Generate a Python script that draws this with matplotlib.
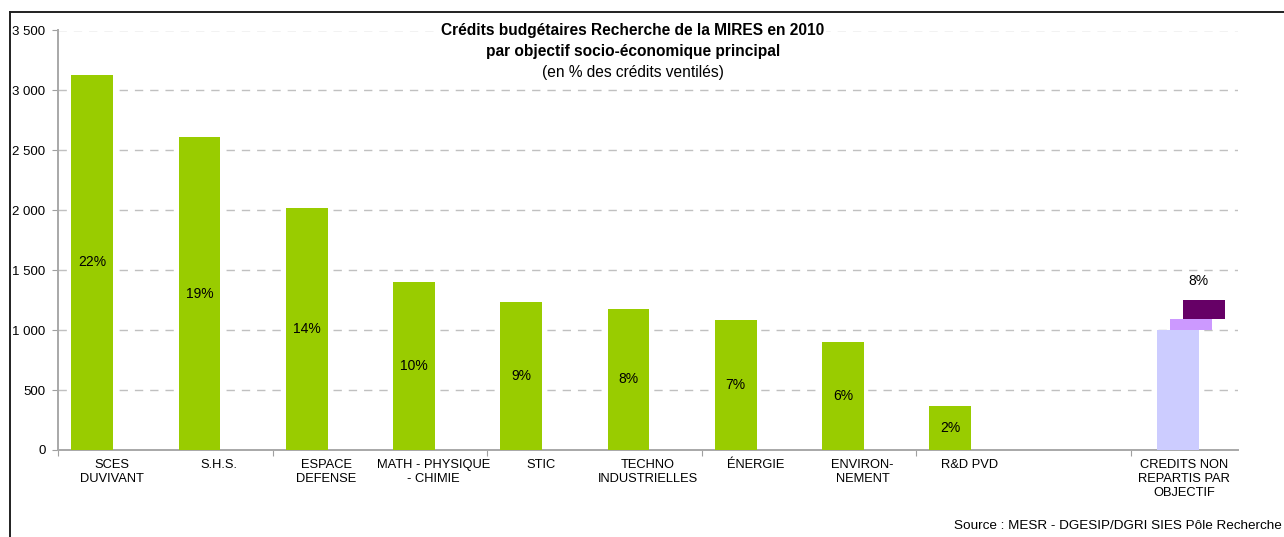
import numpy as np
import matplotlib.pyplot as plt
from matplotlib.lines import Line2D

plt.rcParams['font.family'] = ['Liberation Sans', 'DejaVu Sans']

# budget credits per socio-economic objective (M EUR), share of distributed credits
categories = ["SCES\nDUVIVANT", "S.H.S.", "ESPACE\nDEFENSE", "MATH - PHYSIQUE\n- CHIMIE",
              "STIC", "TECHNO\nINDUSTRIELLES", "ÉNERGIE", "ENVIRON-\nNEMENT", "R&D PVD",
              "", "CREDITS NON\nREPARTIS PAR\nOBJECTIF"]
credits = [3130, 2610, 2015, 1403, 1236, 1180, 1088, 905, 363]
shares = [22, 19, 14, 10, 9, 8, 7, 6, 2]
# non allocated credits, drawn as three offset pieces
unalloc_parts = [1000, 90, 160]
unalloc_share = 8

GREEN = '#99CC00'
PIECE_COLORS = ['#CCCCFF', '#CC99FF', '#660066']

W, H = 1284, 537
fig = plt.figure(figsize=(W / 100, H / 100), dpi=100)
ax = fig.add_axes([58 / W, 1 - 450 / H, (1238 - 58) / W, (450 - 30.5) / H])

width = 0.39
step = 0.121
n_slots = len(categories)
centers = np.arange(n_slots) + 0.5

xg = centers[:len(credits)] - 1.5 * step
ax.bar(xg, credits, width, color=GREEN, zorder=3)
for x, v, s in zip(xg, credits, shares):
    ax.text(x, v / 2, f"{s}%", ha='center', va='center', fontsize=10, zorder=4)

# offset pieces for the last slot
bottom = 0
for k, (v, c) in enumerate(zip(unalloc_parts, PIECE_COLORS)):
    xk = centers[-1] + (k - 0.5) * step
    ax.bar(xk, v, width, bottom=bottom, color=c, zorder=3)
    bottom += v
ax.annotate(f"{unalloc_share}%", (centers[-1] + 1.5 * step, bottom),
            xytext=(-4, 9), textcoords='offset points',
            ha='center', va='bottom', fontsize=10)

ax.set_xlim(0, n_slots)
ax.set_ylim(0, 3500)
ax.set_yticks(np.arange(0, 3501, 500))
ax.set_yticklabels([f"{v:,}".replace(",", " ") for v in range(0, 3501, 500)])
ax.yaxis.grid(True, color='#C0C0C0', linestyle=(0, (6, 5)), linewidth=1.0, zorder=0)

ax.set_xticks(np.arange(0, n_slots, 2))
ax.set_xticklabels([])
ax.set_xticks(centers, categories, minor=True)
ax.tick_params(axis='x', which='minor', length=0, pad=6.5, labelsize=9.3)
ax.tick_params(axis='x', which='major', length=4, color='#A0A0A0', direction='out')
ax.tick_params(axis='y', length=4, color='#A0A0A0', pad=5, labelsize=9.5)
for lab in ax.get_xticklabels(minor=True):
    lab.set_linespacing(1.2)

for side in ('top', 'right'):
    ax.spines[side].set_visible(False)
for side in ('left', 'bottom'):
    ax.spines[side].set_color('#A8A8A8')
    ax.spines[side].set_linewidth(1.4)

bg = dict(facecolor='white', edgecolor='none', pad=1)
fig.text(633 / W, 1 - 35 / H, "Crédits budgétaires Recherche de la MIRES en 2010",
         ha='center', va='baseline', fontsize=11.2, fontweight='bold', bbox=bg)
fig.text(633 / W, 1 - 56 / H, "par objectif socio-économique principal",
         ha='center', va='baseline', fontsize=11.2, fontweight='bold', bbox=bg)
fig.text(633 / W, 1 - 77 / H, "(en % des crédits ventilés)",
         ha='center', va='baseline', fontsize=11.2, bbox=bg)

fig.text(1282 / W, 1 - 529 / H, "Source : MESR - DGESIP/DGRI SIES Pôle Recherche",
         ha='right', va='baseline', fontsize=9.7)

# outer chart frame
fig.add_artist(Line2D([10 / W, 1], [1 - 12 / H, 1 - 12 / H], color='#202020', lw=1.4))
fig.add_artist(Line2D([10 / W, 10 / W], [0, 1 - 12 / H], color='#202020', lw=1.4))

fig.savefig('out.png', dpi=100)
